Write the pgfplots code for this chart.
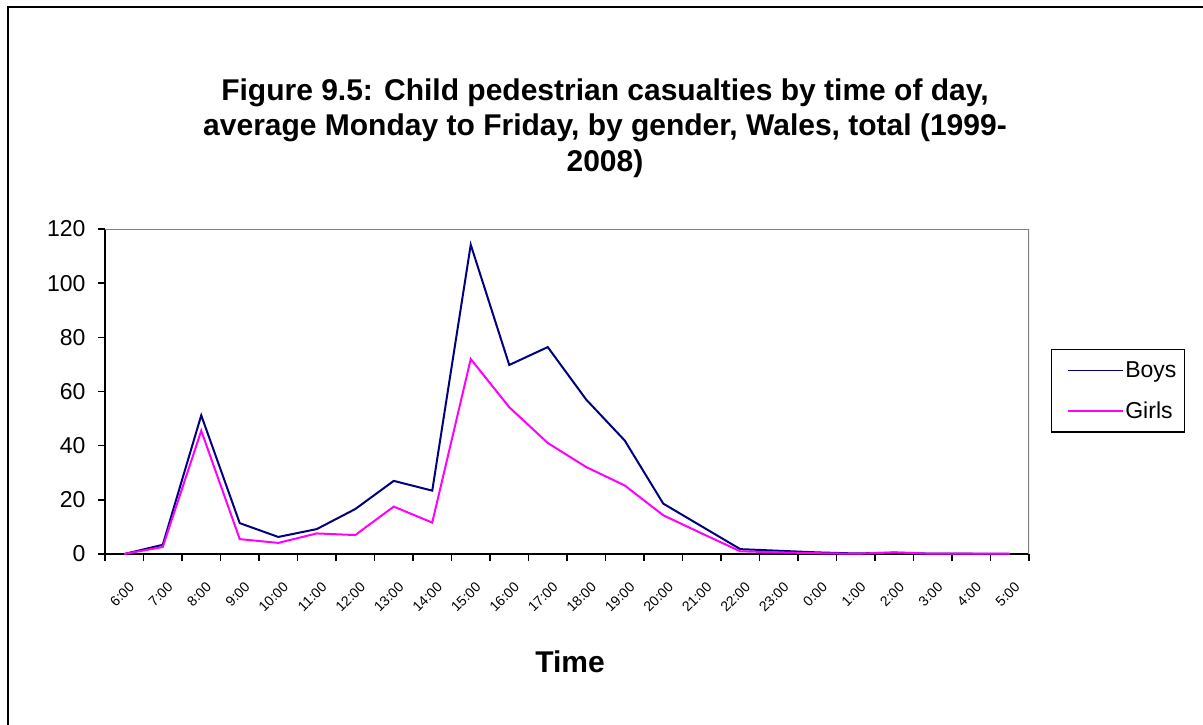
\documentclass[border=0pt]{standalone}
\usepackage{pgfplots}
\pgfplotsset{compat=1.18}
\usepackage{fontspec}
\setmainfont{Liberation Sans}

\definecolor{boys}{RGB}{0,0,128}
\definecolor{girls}{RGB}{255,0,255}
\definecolor{framegray}{RGB}{128,128,128}

\begin{document}
\begin{tikzpicture}
% page = 1203 x 724, 1px = 1pt, y going down as negative
\useasboundingbox (0pt,0pt) rectangle (1203pt,-724pt);
\clip (0pt,0pt) rectangle (1203pt,-724pt);
\draw[line width=2.5pt] (8pt,-7pt) rectangle (1215pt,-740pt);

\node[align=center, font=\bfseries\fontsize{30}{35.5}\selectfont] at (605pt,-128pt)
  {Figure 9.5: Child pedestrian casualties by time of day,\\
   average Monday to Friday, by gender, Wales, total (1999-\\
   2008)};

\begin{axis}[
    at={(105pt,-554pt)}, anchor=south west,
    scale only axis,
    width=924pt, height=325pt,
    xmin=0, xmax=24, ymin=0, ymax=120,
    axis x line*=bottom, axis y line*=left,
    axis line style={-, black, line width=2pt},
    ytick={0,20,...,120},
    xtick={0.5,1.5,...,23.5},
    xticklabels={6:00,7:00,8:00,9:00,10:00,11:00,12:00,13:00,14:00,15:00,16:00,17:00,18:00,19:00,20:00,21:00,22:00,23:00,0:00,1:00,2:00,3:00,4:00,5:00},
    minor xtick={0,1,...,24},
    major x tick style={draw=none},
    minor tick length=7pt, major tick length=7pt,
    tick align=outside,
    tick style={black, line width=1.5pt},
    /pgf/number format/assume math mode=true,
    yticklabel style={font=\fontsize{23}{26}\selectfont, xshift=-9pt},
    xticklabel style={font=\fontsize{14}{15}\selectfont, rotate=45, anchor=east, xshift=-8pt, yshift=-22pt},
    legend style={at={(1.0238,0.6308)}, anchor=north west, draw=black, line width=1.2pt,
        font=\fontsize{23}{26}\selectfont, inner xsep=6pt, inner ysep=10pt,
        row sep=19pt, cells={anchor=west}},
    legend image code/.code={\path (-9pt,0pt); \draw[#1, line width=1.5pt] (0pt,0pt) -- (55pt,0pt);},
]
\addplot[boys, line width=2pt] coordinates {
 (0.5,0) (1.5,3.4) (2.5,51.2) (3.5,11.4) (4.5,6.3) (5.5,9.2) (6.5,16.6) (7.5,27.0)
 (8.5,23.4) (9.5,114.2) (10.5,69.8) (11.5,76.4) (12.5,57.0) (13.5,41.9) (14.5,18.6)
 (15.5,10.2) (16.5,1.8) (17.5,1.2) (18.5,0.6) (19.5,0.2) (20.5,0.5) (21.5,0.1)
 (22.5,0.1) (23.5,0)
};
\addplot[girls, line width=2pt] coordinates {
 (0.5,0) (1.5,2.6) (2.5,45.5) (3.5,5.5) (4.5,4.1) (5.5,7.6) (6.5,7.0) (7.5,17.5)
 (8.5,11.6) (9.5,72.0) (10.5,54.2) (11.5,41.0) (12.5,32.1) (13.5,25.3) (14.5,14.3)
 (15.5,7.6) (16.5,1.0) (17.5,0.6) (18.5,0.3) (19.5,0.1) (20.5,0.6) (21.5,0.1)
 (22.5,0.1) (23.5,0.1)
};
\legend{Boys, Girls}
\draw[framegray, line width=1.5pt] (rel axis cs:0,1) -- (rel axis cs:1,1) -- (rel axis cs:1,0);
\end{axis}

\node[font=\bfseries\fontsize{30}{34}\selectfont] at (570pt,-662pt) {Time};
\end{tikzpicture}
\end{document}
